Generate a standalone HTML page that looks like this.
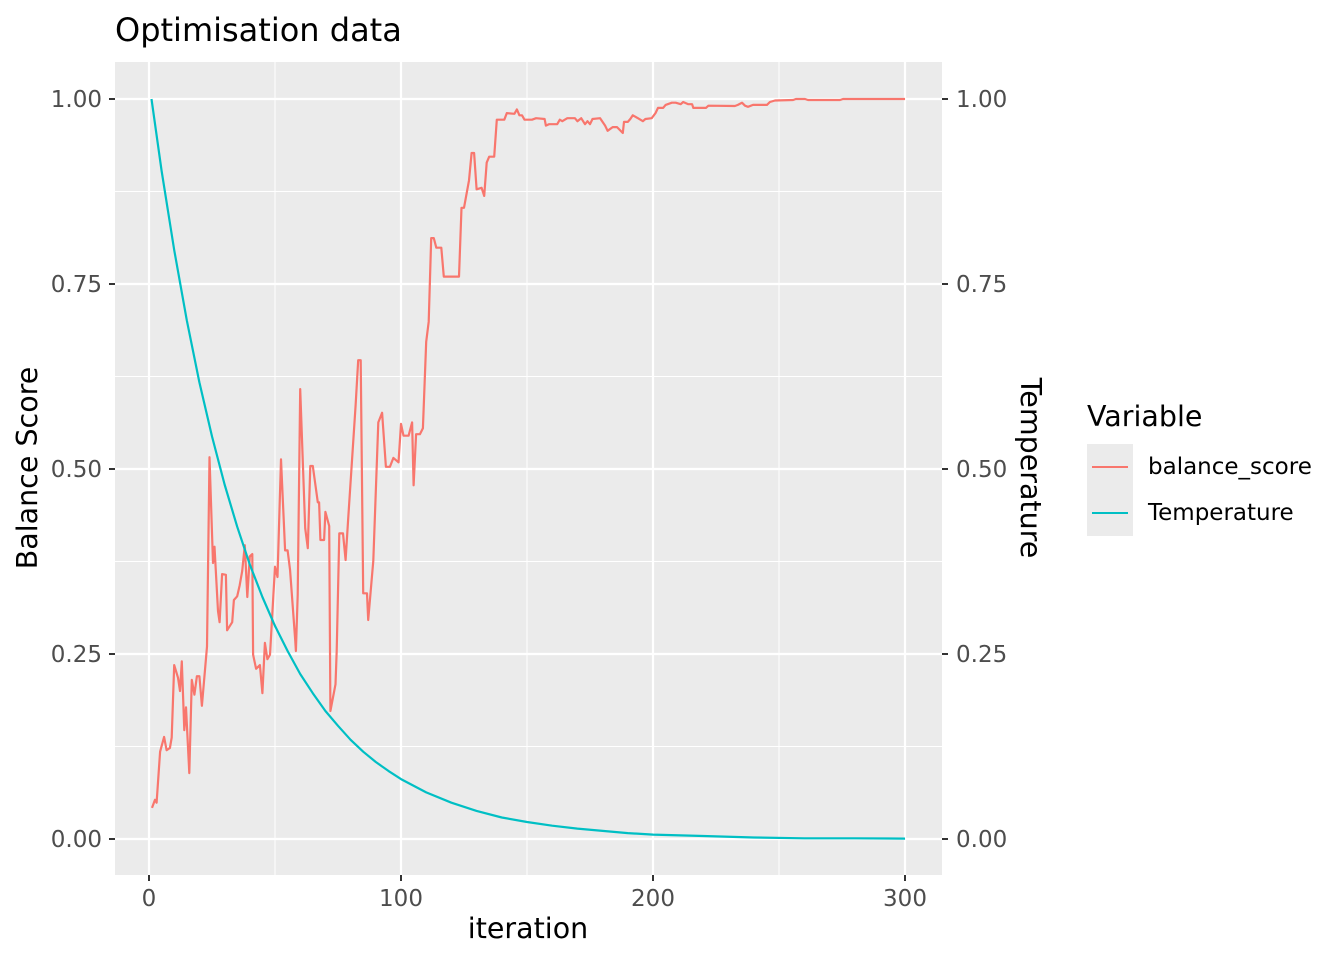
<!DOCTYPE html>
<html><head><meta charset="utf-8"><style>
body{margin:0;background:#fff;}
svg{display:block;font-family:"DejaVu Sans","Liberation Sans",sans-serif;}
</style></head><body>
<svg id="chart" width="1344" height="960">
<rect x="0" y="0" width="1344" height="960" fill="#fff"/>
<text x="115" y="41" font-size="32" fill="#000">Optimisation data</text>
<rect x="115" y="62" width="827" height="813" fill="#ebebeb"/>
<g id="grid"></g>
<g id="series"></g>
<g id="axes"></g>
<text transform="translate(37,468) rotate(-90)" text-anchor="middle" font-size="28.5" fill="#000">Balance Score</text>
<text transform="translate(1021,468) rotate(90)" text-anchor="middle" font-size="28.5" fill="#000">Temperature</text>
<text x="528" y="938" text-anchor="middle" font-size="28.5" fill="#000">iteration</text>
<g>
<text x="1087" y="426" font-size="28.5" fill="#000">Variable</text>
<rect x="1087" y="444" width="46" height="46" fill="#ebebeb"/>
<line x1="1092" y1="467" x2="1128" y2="467" stroke="#F8766D" stroke-width="2"/>
<text x="1148" y="474" font-size="23" fill="#000">balance_score</text>
<rect x="1087" y="490" width="46" height="46" fill="#ebebeb"/>
<line x1="1092" y1="513" x2="1128" y2="513" stroke="#00BFC4" stroke-width="2"/>
<text x="1148" y="520" font-size="23" fill="#000">Temperature</text>
</g>
</svg>
<script>
const xTicks=[0,100,200,300];
const xMinor=[50,150,250];
const yTicks=[0,0.25,0.5,0.75,1];
const yTickLabels=["0.00","0.25","0.50","0.75","1.00"];
const yMinor=[0.125,0.375,0.625,0.875];
const balanceIter=[1.2,2.4,3,4.4,6,7,8.3,9,10,11.5,12.3,13,14,14.7,16,17,18,19,20,21,23,24,25.4,26,27.4,28,29,30.5,31,33,33.7,35,36,37,38,39,40,41,41.3,42.5,44,45,46,47,48,50,51,52.4,54,55,56,58,58.3,59,60,62,63,64,65,67,67.5,68,69.5,70,71.5,72,74,74.5,75.5,77,78,79,82,83,84,85,86.5,87,89,91,92.5,94,95.6,97,99,100,101,103,104.4,105,106,107.5,108.7,110,111,112,113,114,116,117,123,124,125,127,128,129,130,132,133,134,135,137,138,141,142,145,146,147,148,149,152,153.6,157,157.5,158.7,162,163,164,166,169,170,171.5,173,174,175,176,179,181,182,184,185.7,188,188.5,190,191,192,194,196,197,199.5,201,202,204,205,207.5,209,211,212,214,215.5,216,221,222,232.5,233.7,235.3,236.5,237.7,239.7,245.2,246.4,248.4,255.6,256.7,260.3,261.5,274.2,275.4,300];
const balanceScore=[0.042,0.053,0.049,0.118,0.138,0.12,0.123,0.137,0.235,0.218,0.2,0.24,0.147,0.178,0.089,0.215,0.195,0.22,0.22,0.18,0.26,0.516,0.373,0.395,0.308,0.293,0.358,0.357,0.282,0.293,0.323,0.328,0.343,0.362,0.397,0.327,0.382,0.385,0.249,0.23,0.235,0.197,0.265,0.243,0.249,0.368,0.354,0.513,0.39,0.39,0.363,0.269,0.254,0.33,0.608,0.42,0.393,0.504,0.504,0.455,0.455,0.404,0.404,0.442,0.423,0.173,0.209,0.254,0.413,0.413,0.377,0.431,0.586,0.647,0.647,0.332,0.332,0.296,0.376,0.563,0.576,0.503,0.503,0.515,0.509,0.561,0.545,0.545,0.563,0.478,0.547,0.547,0.555,0.672,0.699,0.812,0.812,0.799,0.799,0.76,0.76,0.853,0.853,0.89,0.927,0.927,0.878,0.88,0.869,0.914,0.922,0.922,0.972,0.972,0.981,0.98,0.986,0.978,0.978,0.972,0.972,0.974,0.973,0.964,0.966,0.966,0.972,0.97,0.974,0.974,0.97,0.974,0.966,0.97,0.966,0.973,0.974,0.964,0.957,0.962,0.962,0.954,0.969,0.969,0.973,0.978,0.974,0.97,0.973,0.974,0.981,0.988,0.988,0.992,0.995,0.995,0.993,0.996,0.993,0.993,0.988,0.988,0.991,0.9905,0.992,0.995,0.991,0.9895,0.992,0.992,0.996,0.998,0.9986,1.0,1.0,0.9986,0.9986,1.0,1.0];
const tempIter=[1,5,10,15,20,25,30,35,40,45,50,55,60,65,70,75,80,85,90,95,100,110,120,130,140,150,160,170,180,190,200,220,240,260,280,300];
const temperature=[1,0.903,0.796,0.701,0.617,0.544,0.479,0.422,0.371,0.327,0.288,0.254,0.223,0.197,0.173,0.153,0.134,0.118,0.104,0.092,0.081,0.063,0.049,0.038,0.029,0.023,0.018,0.014,0.011,0.008,0.006,0.004,0.002,0.001,0.001,0.0005];

const NS="http://www.w3.org/2000/svg";
const X=v=>149+v*2.52;
const Y=v=>839-v*740;
function mk(tag,attrs,parent){const e=document.createElementNS(NS,tag);for(const k in attrs)e.setAttribute(k,attrs[k]);parent.appendChild(e);return e;}
const grid=document.getElementById('grid'),axes=document.getElementById('axes'),series=document.getElementById('series');
yMinor.forEach(v=>{const l=mk('line',{x1:115,x2:942,y1:Y(v),y2:Y(v),stroke:'#fff','stroke-width':1},grid);

});
xMinor.forEach(v=>{const l=mk('line',{x1:X(v),x2:X(v),y1:62,y2:875,stroke:'#fff','stroke-width':1},grid);

});
yTicks.forEach((v,i)=>{const l=mk('line',{x1:115,x2:942,y1:Y(v),y2:Y(v),stroke:'#fff','stroke-width':2.2},grid);


const t=mk('line',{x1:109,x2:115,y1:Y(v),y2:Y(v),stroke:'#333','stroke-width':2},axes);


const lb=mk('text',{x:102,y:Y(v)+8,'text-anchor':'end','font-size':23,fill:'#4d4d4d'},axes);lb.textContent=yTickLabels[i];


const t2=mk('line',{x1:942,x2:948,y1:Y(v),y2:Y(v),stroke:'#333','stroke-width':2},axes);


const lb2=mk('text',{x:956,y:Y(v)+8,'font-size':23,fill:'#4d4d4d'},axes);lb2.textContent=yTickLabels[i];

});
xTicks.forEach(v=>{const l=mk('line',{x1:X(v),x2:X(v),y1:62,y2:875,stroke:'#fff','stroke-width':2.2},grid);


const t=mk('line',{x1:X(v),x2:X(v),y1:875,y2:881,stroke:'#333','stroke-width':2},axes);


const lb=mk('text',{x:X(v),y:906,'text-anchor':'middle','font-size':23,fill:'#4d4d4d'},axes);lb.textContent=String(v);

});
const bp=mk('polyline',{points:balanceIter.map((v,i)=>X(v).toFixed(1)+','+Y(balanceScore[i]).toFixed(1)).join(' '),fill:'none',stroke:'#F8766D','stroke-width':2.2,'stroke-linejoin':'round'},series);


const tp=mk('polyline',{points:tempIter.map((v,i)=>X(v).toFixed(1)+','+Y(temperature[i]).toFixed(1)).join(' '),fill:'none',stroke:'#00BFC4','stroke-width':2.2,'stroke-linejoin':'round'},series);


</script>
</body></html>
